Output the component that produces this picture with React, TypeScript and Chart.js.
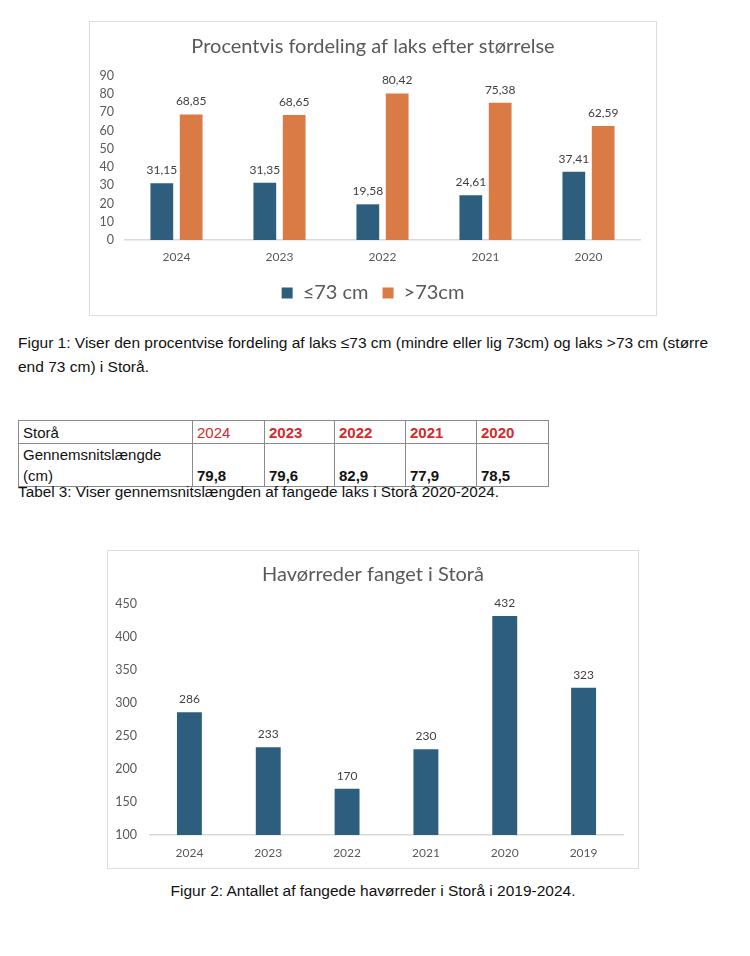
import React, { useEffect, useRef } from "react";
import { Chart, registerables } from "chart.js";
Chart.register(...registerables);

// ---------- data ----------
const laksYears = ["2024", "2023", "2022", "2021", "2020"];
const laksSmall = [31.15, 31.35, 19.58, 24.61, 37.41];
const laksLarge = [68.85, 68.65, 80.42, 75.38, 62.59];
const laksSeriesNames = ["≤73 cm", ">73cm"];

const tableYears = ["2024", "2023", "2022", "2021", "2020"];
const avgLength = [79.8, 79.6, 82.9, 77.9, 78.5];

const troutYears = ["2024", "2023", "2022", "2021", "2020", "2019"];
const troutCounts = [286, 233, 170, 230, 432, 323];

const BLUE = "#2D5E7E";
const ORANGE = "#DA7A44";
const CHART_FONT = "Lato, 'Liberation Sans', sans-serif";
const TEXT_FONT = "'Liberation Sans', Arial, sans-serif";
const GRAY = "#595959";

const commaFmt = (v: number, d: number) => v.toFixed(d).replace(".", ",");

function valueLabelPlugin(fmt: (v: number) => string, size: number) {
  return {
    id: "valueLabels",
    afterDatasetsDraw(chart: any) {
      const ctx = chart.ctx;
      ctx.save();
      ctx.font = `${size}px ${CHART_FONT}`;
      ctx.fillStyle = "#404040";
      ctx.textAlign = "center";
      ctx.textBaseline = "bottom";
      chart.data.datasets.forEach((ds: any, i: number) => {
        const meta = chart.getDatasetMeta(i);
        meta.data.forEach((el: any, j: number) => {
          ctx.fillText(fmt(ds.data[j]), el.x, el.y - 7);
        });
      });
      ctx.restore();
    },
  };
}

function ChartCanvas({ config, width, height }: { config: () => any; width: number; height: number }) {
  const ref = useRef<HTMLCanvasElement>(null);
  useEffect(() => {
    if (!ref.current) return;
    const chart = new Chart(ref.current, config());
    return () => chart.destroy();
  }, []);
  return <canvas ref={ref} width={width} height={height} style={{ display: "block" }} />;
}

const spacerAxis = (w: number) => ({
  position: "right",
  display: true,
  grid: { display: false, drawTicks: false },
  border: { display: false },
  ticks: { display: false },
  afterFit: (s: any) => { s.width = w; },
});

const laksConfig = () => ({
  type: "bar",
  data: {
    labels: laksYears,
    datasets: [
      { label: laksSeriesNames[0], data: laksSmall, backgroundColor: BLUE, categoryPercentage: 0.57, barPercentage: 0.775 },
      { label: laksSeriesNames[1], data: laksLarge, backgroundColor: ORANGE, categoryPercentage: 0.57, barPercentage: 0.775 },
    ],
  },
  options: {
    responsive: false,
    animation: false,
    devicePixelRatio: 1,
    layout: { padding: { left: 0, right: 0, top: 0, bottom: 2 } },
    plugins: {
      title: {
        display: true,
        text: "Procentvis fordeling af laks efter størrelse",
        color: GRAY,
        font: { family: CHART_FONT, size: 20, weight: "normal" },
        padding: { top: 13, bottom: 17 },
      },
      legend: {
        display: true,
        position: "bottom",
        labels: {
          color: GRAY,
          font: { family: CHART_FONT, size: 20 },
          boxWidth: 11,
          boxHeight: 11,
          padding: 14,
        },
      },
      tooltip: { enabled: false },
    },
    scales: {
      x: {
        grid: { display: false, drawTicks: false },
        border: { display: true, color: "#d9d9d9", width: 1.5 },
        ticks: { color: GRAY, font: { family: CHART_FONT, size: 12 }, padding: 10 },
        afterFit: (s: any) => { s.height = 29; },
      },
      y: {
        min: 0,
        max: 90,
        grid: { display: false, drawTicks: false },
        border: { display: false },
        ticks: { stepSize: 10, autoSkip: false, color: GRAY, font: { family: CHART_FONT, size: 12.5 }, padding: 11 },
        afterFit: (s: any) => { s.width = 35; },
      },
      yr: spacerAxis(16),
    },
  },
  plugins: [valueLabelPlugin((v) => commaFmt(v, 2), 12)],
});

const troutConfig = () => ({
  type: "bar",
  data: {
    labels: troutYears,
    datasets: [
      { label: "Havørreder", data: troutCounts, backgroundColor: BLUE, categoryPercentage: 1, barPercentage: 0.316 },
    ],
  },
  options: {
    responsive: false,
    animation: false,
    devicePixelRatio: 1,
    layout: { padding: { left: 0, right: 0, top: 0, bottom: 0 } },
    plugins: {
      title: {
        display: true,
        text: "Havørreder fanget i Storå",
        color: GRAY,
        font: { family: CHART_FONT, size: 20, weight: "normal" },
        padding: { top: 12, bottom: 17 },
      },
      legend: { display: false },
      tooltip: { enabled: false },
    },
    scales: {
      x: {
        grid: { display: false, drawTicks: false },
        border: { display: true, color: "#d9d9d9", width: 1.5 },
        ticks: { color: GRAY, font: { family: CHART_FONT, size: 12 }, padding: 11 },
        afterFit: (s: any) => { s.height = 33; },
      },
      y: {
        min: 100,
        max: 450,
        grid: { display: false, drawTicks: false },
        border: { display: false },
        ticks: { stepSize: 50, autoSkip: false, color: GRAY, font: { family: CHART_FONT, size: 12.5 }, padding: 13 },
        afterFit: (s: any) => { s.width = 42; },
      },
      yr: spacerAxis(15),
    },
  },
  plugins: [valueLabelPlugin((v) => String(v), 12)],
});

const colWidths = [174, 72, 70, 71, 71, 72];

export default function App() {
  const cell: React.CSSProperties = {
    border: "1px solid #8a8a8a",
    padding: "0 4px",
    fontSize: 15,
    color: "#111",
  };
  return (
    <div style={{ position: "absolute", left: 0, top: 0, width: 750, height: 956, background: "#fff", fontFamily: TEXT_FONT, color: "#111" }}>
      <div style={{ position: "absolute", left: 89, top: 21, width: 568, height: 295, border: "1px solid #dcdcdc", boxSizing: "border-box" }}>
        <ChartCanvas config={laksConfig} width={566} height={293} />
      </div>

      <div style={{ position: "absolute", left: 18, top: 331, fontSize: 15.5, lineHeight: "24px", whiteSpace: "nowrap" }}>
        Figur 1: Viser den procentvise fordeling af laks ≤73 cm (mindre eller lig 73cm) og laks &gt;73 cm (større
        <br />
        end 73 cm) i Storå.
      </div>

      <table style={{ position: "absolute", left: 18, top: 420, borderCollapse: "collapse", tableLayout: "fixed", width: 530 }}>
        <colgroup>
          {colWidths.map((w, i) => <col key={i} style={{ width: w }} />)}
        </colgroup>
        <tbody>
          <tr style={{ height: 23 }}>
            <td style={cell}>Storå</td>
            {tableYears.map((y, i) => (
              <td key={y} style={{ ...cell, color: "#D42A2A", fontWeight: i === 0 ? "normal" : "bold" }}>{y}</td>
            ))}
          </tr>
          <tr style={{ height: 42 }}>
            <td style={{ ...cell, lineHeight: "21px", verticalAlign: "bottom" }}>Gennemsnitslængde<br />(cm)</td>
            {avgLength.map((v, i) => (
              <td key={i} style={{ ...cell, fontWeight: "bold", verticalAlign: "bottom", lineHeight: "21px" }}>{commaFmt(v, 1)}</td>
            ))}
          </tr>
        </tbody>
      </table>

      <div style={{ position: "absolute", left: 18, top: 482, fontSize: 15.3, lineHeight: "20px", whiteSpace: "nowrap" }}>
        Tabel 3: Viser gennemsnitslængden af fangede laks i Storå 2020-2024.
      </div>

      <div style={{ position: "absolute", left: 107, top: 550, width: 532, height: 319, border: "1px solid #dcdcdc", boxSizing: "border-box" }}>
        <ChartCanvas config={troutConfig} width={530} height={317} />
      </div>

      <div style={{ position: "absolute", left: 0, width: 746, top: 881, textAlign: "center", fontSize: 15.5, lineHeight: "20px", whiteSpace: "nowrap" }}>
        Figur 2: Antallet af fangede havørreder i Storå i 2019-2024.
      </div>
    </div>
  );
}
